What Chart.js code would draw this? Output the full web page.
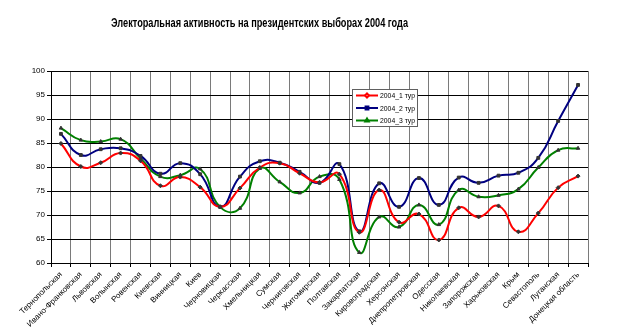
<!DOCTYPE html>
<html>
<head>
<meta charset="utf-8">
<script src="https://cdn.jsdelivr.net/npm/chart.js@4/dist/chart.umd.min.js"></script>
<style>
html,body{margin:0;padding:0;background:#fff;}
#wrap{width:640px;height:333px;}
</style>
</head>
<body>
<div id="wrap"><canvas id="c" width="640" height="333"></canvas></div>
<script>
const titleText = 'Электоральная активность на президентских выборах 2004 года';
const categories = ['Тернопольская','Ивано-Франковская','Львовская','Волынская','Ровенская','Киевская','Винницкая','Киев','Черновицкая','Черкасская','Хмельницкая','Сумская','Черниговская','Житомирская','Полтавская','Закарпатская','Кировоградская','Херсонская','Днепропетровская','Одесская','Николаевская','Запорожская','Харьковская','Крым','Севастополь','Луганская','Донецкая область'];
const seriesNames = ['2004_1 тур','2004_2 тур','2004_3 тур'];
const tur1 = [84.9,80.1,80.9,82.9,81.3,76.1,77.9,75.8,71.7,75.6,79.9,80.8,78.7,76.8,78.5,66.4,75.2,68.5,70.2,64.8,71.5,69.6,71.9,66.5,70.4,75.7,78.1];
const tur2 = [86.9,82.5,83.7,83.9,82.3,78.6,80.8,78.5,71.7,78.0,81.2,80.9,79.0,76.7,80.6,66.6,76.6,71.7,77.7,72.1,77.8,76.7,78.2,78.8,81.9,89.6,97.1];
const tur3 = [88.1,85.6,85.3,85.8,81.8,78.0,78.3,79.6,71.7,71.4,79.7,76.9,74.6,78.0,77.4,62.2,69.6,67.5,72.1,68.0,75.2,73.8,74.1,75.4,79.9,83.5,83.9];
const yTicks = [60,65,70,75,80,85,90,95,100];

const colors = ['#ff0000','#000080','#008000'];
const styles = ['rectRot','rect','triangle'];

const titlePlugin = {
  id:'titlePlugin',
  afterDraw(chart){
    const ctx = chart.ctx;
    ctx.save();
    ctx.fillStyle = '#000';
    ctx.font = 'bold 12px "Liberation Sans", Arial, sans-serif';
    ctx.textAlign = 'center';
    ctx.textBaseline = 'alphabetic';
    ctx.fillText(titleText, 259.5, 27, 297);
    ctx.restore();
  }
};

const legendPlugin = {
  id:'boxLegend',
  afterDraw(chart){
    const ctx = chart.ctx;
    const x0 = 352, y0 = 89, w = 65, h = 37;
    ctx.save();
    ctx.fillStyle = '#fff';
    ctx.fillRect(x0, y0, w, h);
    ctx.strokeStyle = '#606060';
    ctx.lineWidth = 1;
    ctx.strokeRect(x0 + 0.5, y0 + 0.5, w, h);
    ctx.font = '8px "Liberation Sans", Arial, sans-serif';
    ctx.textBaseline = 'middle';
    ctx.textAlign = 'left';
    chart.data.datasets.forEach((ds, i) => {
      const y = y0 + 6.5 + i * 12.5;
      ctx.strokeStyle = ds.borderColor;
      ctx.lineWidth = 2;
      ctx.beginPath();
      ctx.moveTo(x0 + 4, y);
      ctx.lineTo(x0 + 26, y);
      ctx.stroke();
      Chart.helpers.drawPoint(ctx, {pointStyle: ds.pointStyle, rotation: 0, radius: 2, borderWidth: 1}, x0 + 15, y);
      ctx.fillStyle = '#000';
      ctx.fillText(ds.label, x0 + 28, y + 0.5, 35);
    });
    ctx.restore();
  }
};

function mkDs(i, data){
  return {
    label: seriesNames[i],
    data: data,
    borderColor: colors[i],
    backgroundColor: colors[i],
    pointBackgroundColor: '#333',
    pointBorderColor: '#333',
    pointStyle: styles[i],
    pointRadius: 2,
    pointBorderWidth: 1,
    borderWidth: 2,
    tension: 0.5,
    fill: false
  };
}

new Chart(document.getElementById('c'), {
  type: 'line',
  data: {
    labels: categories,
    datasets: [mkDs(0, tur1), mkDs(1, tur2), mkDs(2, tur3)]
  },
  options: {
    responsive: false,
    animation: false,
    devicePixelRatio: 1,
    layout: { padding: { left: 0, right: 52, top: 71, bottom: 0 } },
    plugins: { legend: { display: false }, title: { display: false }, tooltip: { enabled: false } },
    scales: {
      x: {
        type: 'category',
        offset: true,
        grid: { offset: true, color: '#7a7a7a', lineWidth: 1, drawTicks: true, tickLength: 4, tickColor: '#000' },
        border: { color: '#000', width: 1 },
        ticks: {
          autoSkip: false, minRotation: 45, maxRotation: 45, padding: 3,
          color: '#000',
          font: { family: '"Liberation Sans", Arial, sans-serif', size: 8 }
        },
        afterFit(s){ s.height = 70; }
      },
      y: {
        min: 60, max: 100,
        afterBuildTicks(s){ s.ticks = yTicks.map(v => ({value: v})); },
        grid: { color: '#000', lineWidth: 1, drawTicks: true, tickLength: 4, tickColor: '#000' },
        border: { color: '#000', width: 1 },
        ticks: {
          padding: 2, color: '#000',
          font: { family: '"Liberation Sans", Arial, sans-serif', size: 8 }
        },
        afterFit(s){ s.width = 51; }
      }
    }
  },
  plugins: [titlePlugin, legendPlugin]
});
</script>
</body>
</html>
